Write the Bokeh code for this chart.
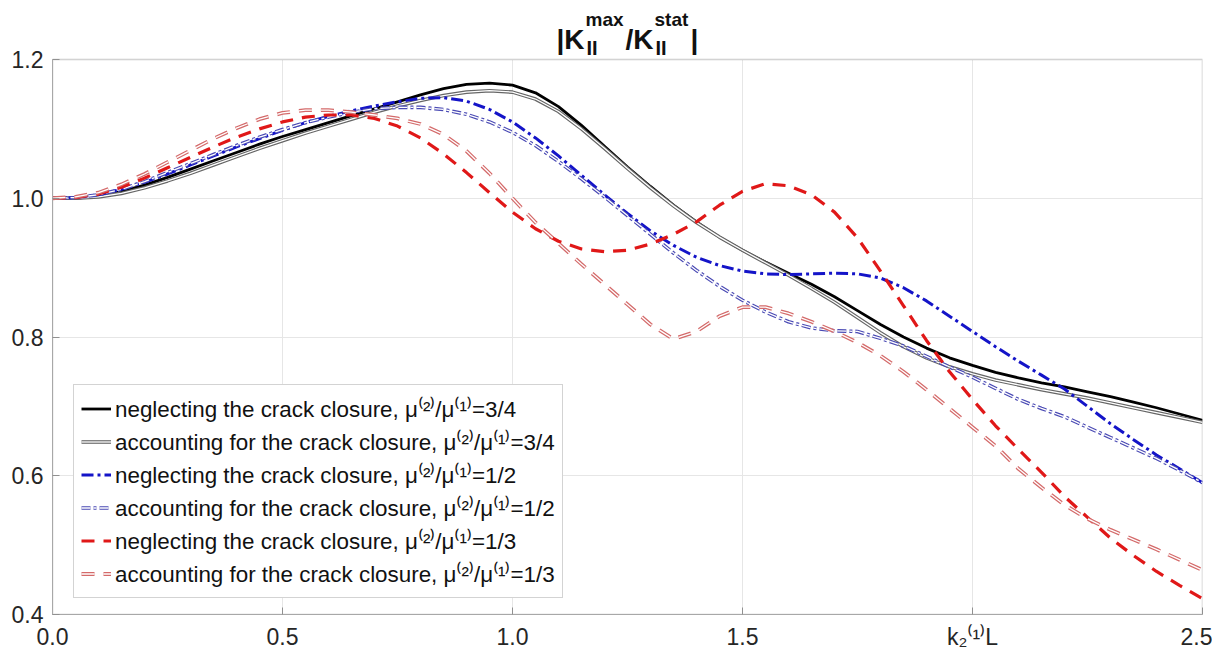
from bokeh.plotting import figure
from bokeh.models import (Legend, LegendItem, FixedTicker, Range1d, PrintfTickFormatter,
                          Label, BoxAnnotation)
from bokeh.embed import file_html
from bokeh.resources import INLINE

# ---------------- data ----------------
x = [0.00, 0.05, 0.10, 0.15, 0.20, 0.25, 0.30, 0.35, 0.40, 0.45,
     0.50, 0.55, 0.60, 0.65, 0.70, 0.75, 0.80, 0.85, 0.90, 0.95,
     1.00, 1.05, 1.10, 1.15, 1.20, 1.25, 1.30, 1.35, 1.40, 1.45,
     1.50, 1.55, 1.60, 1.65, 1.70, 1.75, 1.80, 1.85, 1.90, 1.95,
     2.00, 2.05, 2.10, 2.15, 2.20, 2.25, 2.30, 2.35, 2.40, 2.45, 2.50]

neglect_34 = [1.000, 1.000, 1.003, 1.010, 1.019, 1.030, 1.042, 1.054, 1.066, 1.078,
              1.089, 1.099, 1.109, 1.119, 1.129, 1.139, 1.149, 1.158, 1.164, 1.166,
              1.163, 1.152, 1.132, 1.105, 1.075, 1.045, 1.017, 0.990, 0.966, 0.944,
              0.925, 0.908, 0.892, 0.876, 0.858, 0.838, 0.818, 0.800, 0.784, 0.770,
              0.759, 0.749, 0.741, 0.734, 0.728, 0.721, 0.714, 0.706, 0.698, 0.689, 0.680]

account_34 = [1.000, 1.000, 1.002, 1.007, 1.015, 1.025, 1.036, 1.048, 1.060, 1.072,
              1.083, 1.094, 1.104, 1.114, 1.124, 1.133, 1.141, 1.148, 1.153, 1.155,
              1.153, 1.143, 1.125, 1.100, 1.072, 1.043, 1.015, 0.989, 0.965, 0.944,
              0.925, 0.907, 0.889, 0.870, 0.850, 0.828, 0.806, 0.786, 0.770, 0.757,
              0.747, 0.738, 0.731, 0.724, 0.718, 0.712, 0.705, 0.698, 0.691, 0.684, 0.677]

neglect_12 = [1.000, 1.001, 1.005, 1.013, 1.023, 1.035, 1.048, 1.061, 1.074, 1.086,
              1.098, 1.109, 1.118, 1.126, 1.133, 1.139, 1.144, 1.145, 1.140, 1.128,
              1.110, 1.087, 1.061, 1.033, 1.005, 0.978, 0.953, 0.932, 0.915, 0.903,
              0.895, 0.891, 0.890, 0.891, 0.892, 0.891, 0.885, 0.871, 0.852, 0.830,
              0.808, 0.786, 0.765, 0.745, 0.725, 0.700, 0.675, 0.652, 0.630, 0.610, 0.590]

account_12 = [1.000, 1.001, 1.005, 1.013, 1.024, 1.037, 1.050, 1.063, 1.076, 1.088,
              1.099, 1.109, 1.117, 1.124, 1.129, 1.131, 1.131, 1.128, 1.121, 1.110,
              1.095, 1.076, 1.053, 1.028, 1.002, 0.975, 0.948, 0.921, 0.896, 0.873,
              0.853, 0.836, 0.822, 0.813, 0.809, 0.808, 0.798, 0.787, 0.772, 0.757,
              0.742, 0.726, 0.710, 0.697, 0.685, 0.670, 0.655, 0.640, 0.625, 0.608, 0.590]

neglect_13 = [1.000, 1.001, 1.006, 1.016, 1.029, 1.044, 1.059, 1.074, 1.088, 1.100,
              1.110, 1.117, 1.120, 1.120, 1.115, 1.104, 1.087, 1.064, 1.037, 1.008,
              0.980, 0.956, 0.938, 0.927, 0.923, 0.925, 0.934, 0.948, 0.966, 0.990,
              1.010, 1.021, 1.018, 1.005, 0.980, 0.943, 0.895, 0.845, 0.795, 0.750,
              0.710, 0.672, 0.638, 0.605, 0.570, 0.540, 0.510, 0.485, 0.462, 0.442, 0.423]

account_13 = [1.000, 1.002, 1.008, 1.020, 1.035, 1.052, 1.069, 1.086, 1.101, 1.114,
              1.123, 1.127, 1.127, 1.124, 1.120, 1.115, 1.107, 1.092, 1.068, 1.036,
              1.000, 0.965, 0.935, 0.905, 0.876, 0.847, 0.818, 0.797, 0.808, 0.830,
              0.843, 0.843, 0.834, 0.822, 0.808, 0.792, 0.773, 0.750, 0.724, 0.697,
              0.670, 0.643, 0.610, 0.583, 0.558, 0.538, 0.522, 0.508, 0.494, 0.479, 0.464]

x_ticks = [0.0, 0.5, 1.0, 1.5, 2.0, 2.5]
y_ticks = [0.4, 0.6, 0.8, 1.0, 1.2]
x_label = "k\u2082\u207d\u00b9\u207eL"          # k_2^(1) L, written at the 2.0 tick

labels = [
    "neglecting the crack closure, \u03bc\u207d\u00b2\u207e/\u03bc\u207d\u00b9\u207e=3/4",
    "accounting for the crack closure, \u03bc\u207d\u00b2\u207e/\u03bc\u207d\u00b9\u207e=3/4",
    "neglecting the crack closure, \u03bc\u207d\u00b2\u207e/\u03bc\u207d\u00b9\u207e=1/2",
    "accounting for the crack closure, \u03bc\u207d\u00b2\u207e/\u03bc\u207d\u00b9\u207e=1/2",
    "neglecting the crack closure, \u03bc\u207d\u00b2\u207e/\u03bc\u207d\u00b9\u207e=1/3",
    "accounting for the crack closure, \u03bc\u207d\u00b2\u207e/\u03bc\u207d\u00b9\u207e=1/3",
]

# title pieces: |K_II^max / K_II^stat|
title_text = ["|K", "max", "II", "/K", "stat", "II", "|"]
title_kind = ["main", "sup", "sub", "main", "sup", "sub", "main"]

FONT = "Liberation Sans"
TXT = "#262626"
BOX = "#a8a8a8"

x0, x1 = x_ticks[0], x_ticks[-1]
y0, y1 = y_ticks[0], y_ticks[-1]
# the frame runs up to the top of the canvas so the title (drawn above 1.2) is not clipped;
# 59 px of headroom above the 555 px tall data box
y_top = y1 + (y1 - y0) * 59.0 / 555.0

p = figure(width=1212, height=652, x_range=Range1d(x0, x1), y_range=Range1d(y0, y_top),
           output_backend="svg", toolbar_location=None,
           min_border_left=52, min_border_right=10, min_border_top=0, min_border_bottom=38)
p.background_fill_color = "white"
p.border_fill_color = "white"
p.outline_line_color = None

for ax, tk in ((p.xaxis[0], x_ticks), (p.yaxis[0], y_ticks)):
    ax.ticker = FixedTicker(ticks=tk)
    ax.formatter = PrintfTickFormatter(format="%.1f")
    ax.major_label_text_font = FONT
    ax.major_label_text_font_size = "23px"
    ax.major_label_text_color = TXT
    ax.axis_line_color = BOX
    ax.major_tick_line_color = "#909090"
    ax.major_tick_in = 7
    ax.major_tick_out = 0
    ax.minor_tick_line_color = None
    ax.major_label_standoff = 9
p.yaxis[0].bounds = (y0, y1)
p.xaxis[0].major_label_overrides = {2: x_label}

# grid: horizontal lines from the axis ticker, vertical lines stopped at the data box top
p.ygrid.ticker = FixedTicker(ticks=y_ticks)
p.ygrid.grid_line_color = "#e6e6e6"
p.xgrid.visible = False
p.segment(x0=x_ticks, y0=[y0] * len(x_ticks), x1=x_ticks, y1=[y1] * len(x_ticks),
          line_color="#e6e6e6", line_width=1, level="underlay")

# box around the data area
p.add_layout(BoxAnnotation(left=x0, right=x1, bottom=y0, top=y1, fill_alpha=0,
                           line_color=BOX, line_width=2, level="underlay"))

# ---------------- lines ----------------
r1 = p.line(x, neglect_34, line_color="#000000", line_width=2.8)

r2a = p.line(x, account_34, line_color="#666666", line_width=3.6)
r2b = p.line(x, account_34, line_color="white", line_width=1.3)

r3 = p.line(x, neglect_12, line_color="#1414c8", line_width=3, line_dash="12 4 3 4")

r4a = p.line(x, account_12, line_color="#4a4ab4", line_width=3.6, line_dash="9 3 3 3")
r4b = p.line(x, account_12, line_color="white", line_width=1.3, line_dash="9 3 3 3")

r5 = p.line(x, neglect_13, line_color="#e01818", line_width=3.2, line_dash="13 9")

r6a = p.line(x, account_13, line_color="#d46a6a", line_width=3.8, line_dash="13 9")
r6b = p.line(x, account_13, line_color="white", line_width=1.3, line_dash="13 9")

items = [
    LegendItem(label=labels[0], renderers=[r1]),
    LegendItem(label=labels[1], renderers=[r2a, r2b]),
    LegendItem(label=labels[2], renderers=[r3]),
    LegendItem(label=labels[3], renderers=[r4a, r4b]),
    LegendItem(label=labels[4], renderers=[r5]),
    LegendItem(label=labels[5], renderers=[r6a, r6b]),
]
legend = Legend(items=items, location=(21, 16), margin=0, padding=7, spacing=0,
                label_height=33, glyph_height=33, glyph_width=30, label_standoff=4,
                label_text_font=FONT, label_text_font_size="22.4px",
                label_text_color="#111111",
                border_line_color=BOX, border_line_width=1,
                background_fill_color="white", background_fill_alpha=1.0)
p.add_layout(legend)

# ---------------- title, drawn above the data box ----------------
x_off = {"|K": -71, "max": -42, "/K": -2, "stat": 27, "|": 63}
sub_off = [-41, 28]
sizes = {"main": "28px", "sup": "19px", "sub": "20px"}
lift = {"main": 20, "sup": 40, "sub": 12}
xc = (x0 + x1) / 2.0
si = 0
for t, k in zip(title_text, title_kind):
    if k == "sub":
        xo = sub_off[si]
        si += 1
    else:
        xo = x_off[t]
    p.add_layout(Label(x=xc, y=y1, x_offset=xo, y_offset=lift[k], text=t,
                       text_font=FONT, text_font_size=sizes[k], text_font_style="bold",
                       text_color="#111111", text_baseline="alphabetic",
                       text_align="left"))

open("out.html", "w").write(file_html(p, INLINE))
